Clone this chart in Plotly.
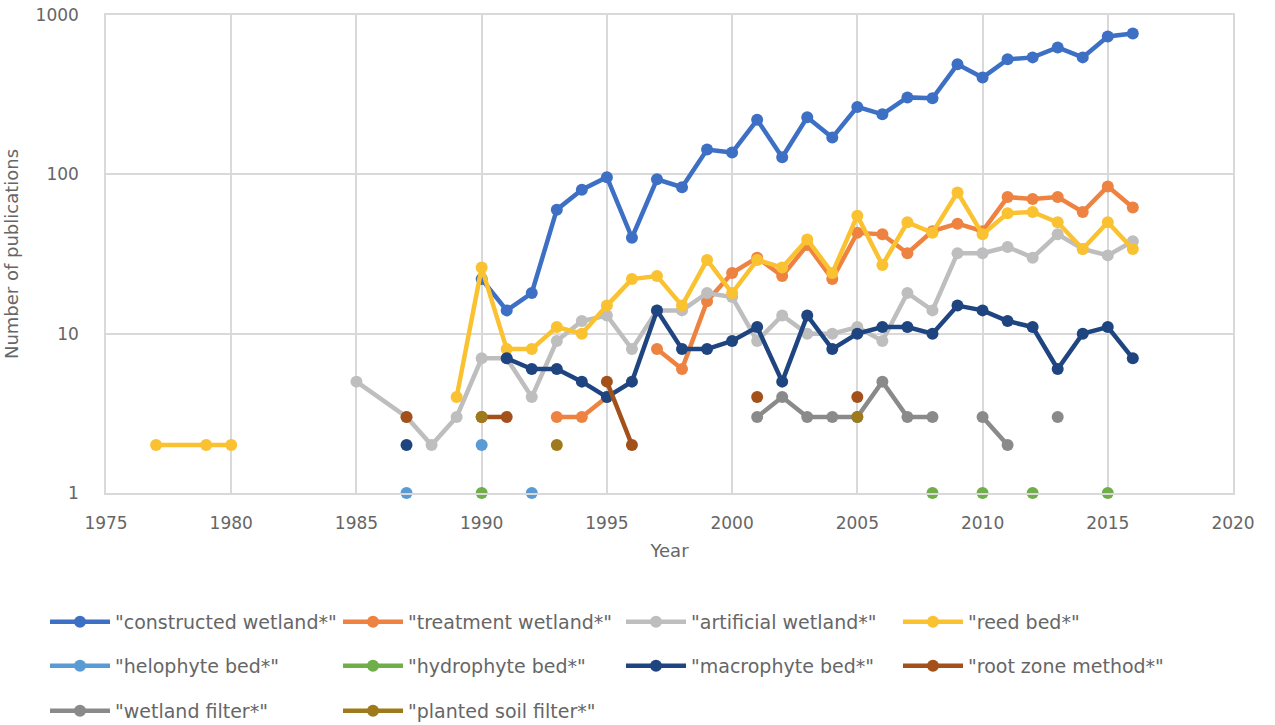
import plotly.graph_objects as go

N = None

# Publication years present in the source table (years with no entries at all are absent)
years = [1977, 1979, 1980, 1985, 1987, 1988, 1989, 1990, 1991, 1992, 1993, 1994,
         1995, 1996, 1997, 1998, 1999, 2000, 2001, 2002, 2003, 2004, 2005, 2006,
         2007, 2008, 2009, 2010, 2011, 2012, 2013, 2014, 2015, 2016]

constructed_wetland = [N, N, N, N, N, N, N, 22, 14, 18, 60, 80, 96, 40, 93, 83, 143, 137,
                       220, 128, 228, 170, 265, 238, 304, 300, 490, 405, 527, 542, 626, 542, 733, 766]
treatment_wetland = [N, N, N, N, N, N, N, N, N, N, 3, 3, 4, N, 8, 6, 16, 24,
                     30, 23, 36, 22, 43, 42, 32, 44, 49, 44, 72, 70, 72, 58, 84, 62]
artificial_wetland = [N, N, N, 5, 3, 2, 3, 7, 7, 4, 9, 12, 13, 8, 14, 14, 18, 17,
                      9, 13, 10, 10, 11, 9, 18, 14, 32, 32, 35, 30, 42, 34, 31, 38]
reed_bed = [2, 2, 2, N, N, N, 4, 26, 8, 8, 11, 10, 15, 22, 23, 15, 29, 18,
            29, 26, 39, 24, 55, 27, 50, 43, 77, 42, 57, 58, 50, 34, 50, 34]
helophyte_bed = [N, N, N, N, 1, N, N, 2, N, 1, N, N, N, N, N, N, N, N,
                 N, N, N, N, N, N, N, N, N, N, N, N, N, N, N, N]
hydrophyte_bed = [N, N, N, N, N, N, N, 1, N, N, N, N, N, N, N, N, N, N,
                  N, N, N, N, N, N, N, 1, N, 1, N, 1, N, N, 1, N]
macrophyte_bed = [N, N, N, N, 2, N, N, N, 7, 6, 6, 5, 4, 5, 14, 8, 8, 9,
                  11, 5, 13, 8, 10, 11, 11, 10, 15, 14, 12, 11, 6, 10, 11, 7]
root_zone_method = [N, N, N, N, 3, N, N, 3, 3, N, N, N, 5, 2, N, N, N, N,
                    4, N, N, N, 4, N, N, N, N, N, N, N, N, N, N, N]
wetland_filter = [N, N, N, N, N, N, N, N, N, N, N, N, N, N, N, N, N, N,
                  3, 4, 3, 3, 3, 5, 3, 3, N, 3, 2, N, 3, N, N, N]
planted_soil_filter = [N, N, N, N, N, N, N, 3, N, N, 2, N, N, N, N, N, N, N,
                       N, N, N, N, 3, N, N, N, N, N, N, N, N, N, N, N]

series_names = ['"constructed wetland*"', '"treatment wetland*"', '"artificial wetland*"',
                '"reed bed*"', '"helophyte bed*"', '"hydrophyte bed*"', '"macrophyte bed*"',
                '"root zone method*"', '"wetland filter*"', '"planted soil filter*"']
series_values = [constructed_wetland, treatment_wetland, artificial_wetland, reed_bed,
                 helophyte_bed, hydrophyte_bed, macrophyte_bed, root_zone_method,
                 wetland_filter, planted_soil_filter]
series_colors = ['#3D70C4', '#EE8240', '#BEBEBE', '#FAC231', '#5B9BD5', '#6FAE48',
                 '#1F4580', '#A4501A', '#8A8A8A', '#9E7A1C']

# Plot area in pixels
W, H = 1275, 725
L, R, T, B = 106, 42, 15, 232
pw, ph = W - L - R, H - T - B

FONT = "DejaVu Sans"
TXT = "#666666"

# Legend grid: 4 columns x 3 rows below the chart
leg_cols = [45, 338, 621, 898]
leg_rows = [622, 666, 711]

fig = go.Figure()
layout_legends = {}
for i, (name, vals, col) in enumerate(zip(series_names, series_values, series_colors)):
    key = "legend" if i == 0 else f"legend{i + 1}"
    fig.add_trace(go.Scatter(
        x=years, y=vals, name=name, mode="lines+markers",
        line=dict(color=col, width=4.5),
        marker=dict(color=col, size=12),
        connectgaps=False, cliponaxis=False,
        legend=key,
    ))
    px = leg_cols[i % 4]
    py = leg_rows[i // 4]
    layout_legends[key] = dict(
        x=(px - L) / pw, y=(T + ph - py) / ph,
        xanchor="left", yanchor="middle",
        bgcolor="rgba(0,0,0,0)", borderwidth=0,
        font=dict(family=FONT, size=19, color=TXT),
        itemwidth=60, orientation="h",
    )

fig.update_layout(
    width=W, height=H, autosize=False,
    margin=dict(l=L, r=R, t=T, b=B, pad=0, autoexpand=False),
    paper_bgcolor="white", plot_bgcolor="white",
    font=dict(family=FONT, size=17, color=TXT),
    showlegend=True,
    **layout_legends,
)

grid = "#D9D9D9"
fig.update_xaxes(
    range=[1975, 2020], tick0=1975, dtick=5,
    showgrid=True, gridcolor=grid, gridwidth=1.5,
    showline=True, linecolor=grid, linewidth=1.5, mirror=True,
    zeroline=False, ticks="outside", ticklen=14, tickcolor="rgba(0,0,0,0)",
    tickfont=dict(family=FONT, size=17, color=TXT),
    title=dict(text="Year", font=dict(family=FONT, size=18, color=TXT), standoff=12),
)
fig.update_yaxes(
    type="log", range=[0, 3],
    tickvals=[1, 10, 100, 1000], ticktext=["1", "10", "100", "1000"],
    showgrid=True, gridcolor=grid, gridwidth=1.5,
    showline=True, linecolor=grid, linewidth=1.5, mirror=True,
    zeroline=False, ticks="outside", ticklen=22, tickcolor="rgba(0,0,0,0)",
    tickfont=dict(family=FONT, size=17, color=TXT),
    title=dict(text="Number of publications", font=dict(family=FONT, size=18, color=TXT), standoff=12),
)

fig.write_html("out.html")
